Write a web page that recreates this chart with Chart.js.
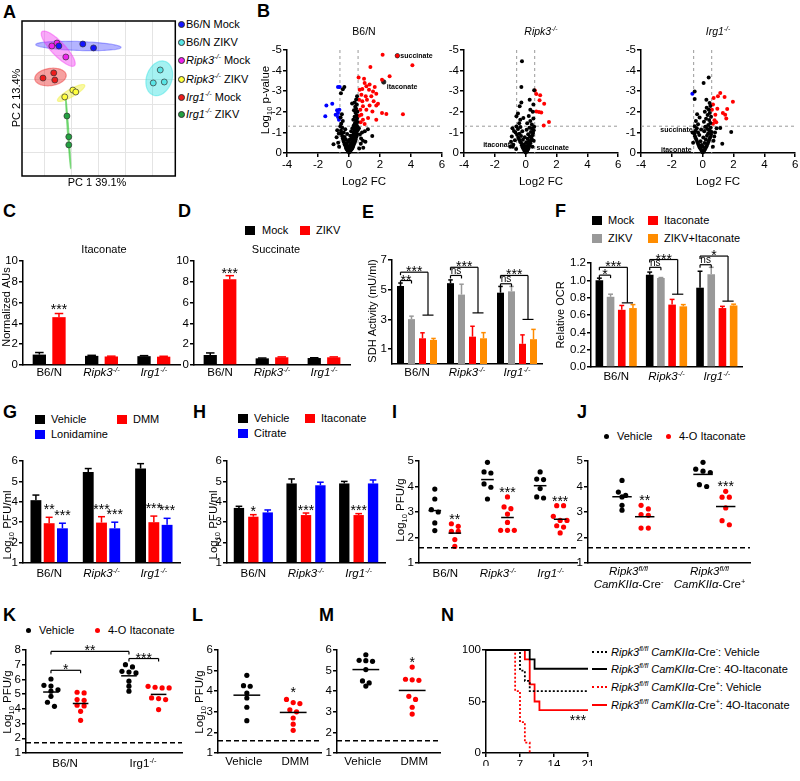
<!DOCTYPE html>
<html>
<head>
<meta charset="utf-8">
<title>Itaconate figure</title>
<script src="https://cdn.jsdelivr.net/npm/chart.js@4.4.1/dist/chart.umd.min.js"></script>
<style>
  body { margin: 0; background: #fff; }
  #fig { position: relative; width: 800px; height: 781px; overflow: hidden; background: #fff;
         font-family: "Liberation Sans", Arial, Helvetica, sans-serif; color: #000; }
  #fig canvas { position: absolute; }
  .lt { position: absolute; font-size: 18px; line-height: 18px; font-weight: bold; }
  .lg { position: absolute; font-size: 11px; line-height: 14px; white-space: nowrap; }
  .lg sup { font-size: 65%; line-height: 0; }
  .sw { display: inline-block; width: 10px; height: 9px; vertical-align: -1px; margin-right: 6px; }
  .dt { display: inline-block; width: 5px; height: 5px; border-radius: 50%; vertical-align: 1px; margin-right: 8px; }
  .pc { display: inline-block; box-sizing: border-box; width: 7px; height: 7px; border-radius: 50%; border: 0.8px solid #333; vertical-align: 0; margin-right: 1px; }
  .ln { display: inline-block; width: 15px; height: 0; vertical-align: 3px; margin-right: 4px; }
</style>
</head>
<body>
<div id="fig">
  <div class="lt" style="left:3px;top:3px">A</div>
  <div class="lt" style="left:257px;top:2px">B</div>
  <div class="lt" style="left:3px;top:202px">C</div>
  <div class="lt" style="left:178px;top:202px">D</div>
  <div class="lt" style="left:362px;top:203px">E</div>
  <div class="lt" style="left:555px;top:202px">F</div>
  <div class="lt" style="left:3px;top:403px">G</div>
  <div class="lt" style="left:193px;top:403px">H</div>
  <div class="lt" style="left:392px;top:403px">I</div>
  <div class="lt" style="left:577px;top:403px">J</div>
  <div class="lt" style="left:3px;top:606px">K</div>
  <div class="lt" style="left:192px;top:606px">L</div>
  <div class="lt" style="left:319px;top:606px">M</div>
  <div class="lt" style="left:441px;top:606px">N</div>

  <div class="lg" style="left:178px;top:17px"><span class="pc" style="background:#1414ff"></span>B6/N Mock</div>
  <div class="lg" style="left:178px;top:35px"><span class="pc" style="background:#5ae6e6"></span>B6/N ZIKV</div>
  <div class="lg" style="left:178px;top:53px"><span class="pc" style="background:#ee22ee"></span><i>Ripk3<sup>-/-</sup></i> Mock</div>
  <div class="lg" style="left:178px;top:72px"><span class="pc" style="background:#ffff3c"></span><i>Ripk3<sup>-/-</sup></i> ZIKV</div>
  <div class="lg" style="left:178px;top:90px"><span class="pc" style="background:#ee1c1c"></span><i>Irg1<sup>-/-</sup></i> Mock</div>
  <div class="lg" style="left:178px;top:107px"><span class="pc" style="background:#22a040"></span><i>Irg1<sup>-/-</sup></i> ZIKV</div>

  <div class="lg" style="left:245px;top:223px"><span class="sw" style="background:#000;margin-right:7px"></span>Mock</div>
  <div class="lg" style="left:300px;top:223px"><span class="sw" style="background:#ff0000"></span>ZIKV</div>

  <div class="lg" style="left:592px;top:213px"><span class="sw" style="background:#000"></span>Mock</div>
  <div class="lg" style="left:648px;top:213px"><span class="sw" style="background:#ff0000"></span>Itaconate</div>
  <div class="lg" style="left:592px;top:231px"><span class="sw" style="background:#999"></span>ZIKV</div>
  <div class="lg" style="left:648px;top:231px"><span class="sw" style="background:#ff8c00"></span>ZIKV+Itaconate</div>

  <div class="lg" style="left:35px;top:412px"><span class="sw" style="background:#000"></span>Vehicle</div>
  <div class="lg" style="left:117px;top:412px"><span class="sw" style="background:#ff0000"></span>DMM</div>
  <div class="lg" style="left:35px;top:427px"><span class="sw" style="background:#0000ff"></span>Lonidamine</div>

  <div class="lg" style="left:238px;top:411px"><span class="sw" style="background:#000"></span>Vehicle</div>
  <div class="lg" style="left:305px;top:411px"><span class="sw" style="background:#ff0000"></span>Itaconate</div>
  <div class="lg" style="left:238px;top:426px"><span class="sw" style="background:#0000ff"></span>Citrate</div>

  <div class="lg" style="left:604px;top:429px"><span class="dt" style="background:#000"></span>Vehicle</div>
  <div class="lg" style="left:666px;top:429px"><span class="dt" style="background:#ff0000"></span>4-O Itaconate</div>

  <div class="lg" style="left:26px;top:623px"><span class="dt" style="background:#000"></span>Vehicle</div>
  <div class="lg" style="left:95px;top:623px"><span class="dt" style="background:#ff0000"></span>4-O Itaconate</div>

  <div class="lg" style="left:592px;top:645px"><span class="ln" style="border-top:2px dotted #000"></span><i>Ripk3<sup>fl/fl</sup> CamKIIα</i>-Cre<sup>-</sup>: Vehicle</div>
  <div class="lg" style="left:592px;top:662px"><span class="ln" style="border-top:2px solid #000"></span><i>Ripk3<sup>fl/fl</sup> CamKIIα</i>-Cre<sup>-</sup>: 4O-Itaconate</div>
  <div class="lg" style="left:592px;top:680px"><span class="ln" style="border-top:2px dotted #ff0000"></span><i>Ripk3<sup>fl/fl</sup> CamKIIα</i>-Cre<sup>+</sup>: Vehicle</div>
  <div class="lg" style="left:592px;top:698px"><span class="ln" style="border-top:2px solid #ff0000"></span><i>Ripk3<sup>fl/fl</sup> CamKIIα</i>-Cre<sup>+</sup>: 4O-Itaconate</div>
</div>

<script>
'use strict';

const FONT = '"Liberation Sans", Arial, Helvetica, sans-serif';

// A - PCA scores (PC1, PC2)
const pcaB6Mock = [[-14.8, 23.7], [-5.9, 24.5], [-1.9, 22.9]];
const pcaB6Zikv = [[22.9, 13.9], [20.3, 8.6], [24.4, 9.0]];
const pcaRipk3Mock = [[-17.4, 23.7], [-15.5, 24.9], [-12.2, 19.2]];
const pcaRipk3Zikv = [[-12.6, 2.9], [-9.6, 5.7], [-8.5, 4.9]];
const pcaIrg1Mock = [[-20.7, 10.6], [-16.7, 12.7], [-16.3, 9.8]];
const pcaIrg1Zikv = [[-11.8, -4.9], [-11.1, -13.4], [-11.1, -16.7]];
const pcaGrid = [-20, -10, 0, 10, 20];

// B - volcano plots: [log2 FC, log10 p-value]
const volcanoTicksX = [-4, -2, 0, 2, 4, 6];
const volcanoTicksY = [-5, -4, -3, -2, -1, 0];

const b6Up = [[3.12,-4.72],[2.17,-4.77],[4.09,-4.26],[1.38,-4.17],[2.62,-3.72],[2.13,-3.56],[0.97,-3.61],[0.62,-3.67],
  [1.01,-3.4],[1.12,-3.24],[0.86,-3.11],[1.29,-3.07],[1.55,-2.99],[1.76,-2.88],[0.80,-2.83],[1.08,-2.75],[1.44,-2.75],
  [1.16,-2.59],[0.86,-2.51],[1.59,-2.51],[1.87,-2.39],[1.33,-2.30],[0.90,-2.27],[0.73,-2.10],[1.12,-2.10],[1.51,-2.02],
  [1.76,-2.30],[2.13,-1.94],[2.41,-1.89],[3.48,-1.88],[0.80,-1.86],[1.23,-1.70],[0.90,-1.62],[0.65,-1.81],[1.76,-1.62],
  [0.75,-1.49],[1.01,-1.41],[0.65,-2.59],[0.69,-3.07],[1.33,-3.32],[1.66,-3.20]];
const b6Down = [[-0.71,-3.2],[-0.60,-3.2],[-1.08,-2.39],[-1.46,-2.30],[-1.53,-1.78],[-0.77,-2.07],[-0.71,-1.94],
  [-0.86,-1.86],[-0.71,-1.75],[-0.65,-1.62],[-0.62,-2.10]];
const b6Ns = [[0.00,-0.03],[0.04,-0.06],[-0.04,-0.08],[0.08,-0.10],[-0.08,-0.12],[0.12,-0.14],[-0.12,-0.16],[0.16,-0.18],
  [-0.16,-0.20],[0.20,-0.22],[-0.20,-0.25],[0.02,-0.20],[-0.02,-0.28],[0.24,-0.28],[0.10,-0.30],[-0.10,-0.33],[0.28,-0.35],
  [-0.24,-0.36],[0.06,-0.38],[0.18,-0.40],[-0.28,-0.42],[0.32,-0.44],[-0.14,-0.46],[0.12,-0.48],[0.36,-0.50],[-0.32,-0.52],
  [0.22,-0.55],[-0.06,-0.56],[0.40,-0.58],[-0.36,-0.60],[0.28,-0.62],[0.04,-0.64],[-0.20,-0.66],[0.44,-0.68],[-0.40,-0.70],
  [0.16,-0.72],[0.34,-0.75],[-0.28,-0.78],[0.48,-0.80],[-0.44,-0.82],[0.08,-0.84],[0.24,-0.86],[0.40,-0.90],[-0.12,-0.92],
  [0.52,-0.94],[-0.48,-0.95],[0.30,-0.98],[-0.34,-1.00],[0.46,-1.04],[0.14,-1.06],[-0.52,-1.08],[0.56,-1.10],[0.36,-1.12],
  [-0.24,-1.15],[0.50,-1.18],[0.22,-1.20],[-0.44,-1.22],[0.42,-1.25],[0.54,-1.28],[-0.56,-1.30],[0.30,-1.32],[0.48,-1.36],
  [-0.50,-1.42],[0.38,-1.45],[0.55,-1.50],[-0.40,-1.55],[0.44,-1.58],[0.28,-1.62],[0.52,-1.68],[-0.54,-1.72],[0.36,-1.76],
  [0.48,-1.82],[-0.46,-1.88],[0.42,-1.95],[0.54,-2.00],[0.32,-2.08],[0.46,-2.15],[0.40,-2.25],[0.50,-2.35],[0.36,-2.45],
  [0.46,-2.60],[0.52,-2.75],[-0.30,-3.20],[-0.40,-3.10],[-0.52,-2.90],[0.20,-2.40],[-1.00,-0.42],[1.50,-0.82],[1.02,-1.05],
  [1.22,-1.15],[0.90,-0.60],[0.76,-0.45],[-0.70,-0.50],[-0.80,-0.76],[0.66,-0.22],[-0.64,-0.30],[0.92,-0.26],[1.06,-0.55],
  [0.70,-0.90],[0.84,-1.00],[0.64,-1.20],[0.78,-0.70],[-0.66,-0.95],[-0.76,-1.10]];
const b6Named = [[3.12,-4.72],[2.24,-3.45]];
const b6NamedLabels = ['succinate', 'itaconate'];

const rpUp = [[0.69,-2.86],[0.94,-2.80],[0.90,-2.56],[1.20,-2.39],[0.69,-2.02],[0.86,-1.99],[1.01,-1.97],[1.51,-1.50],[1.17,-1.33],[0.60,-3.04]];
const rpNs = [[0.00,-0.03],[0.05,-0.06],[-0.05,-0.09],[0.10,-0.12],[-0.10,-0.15],[0.15,-0.18],[-0.15,-0.21],[0.02,-0.24],
  [0.20,-0.26],[-0.20,-0.28],[-0.04,-0.31],[0.10,-0.34],[0.25,-0.36],[-0.25,-0.38],[-0.12,-0.41],[0.18,-0.44],[0.30,-0.47],
  [-0.30,-0.50],[0.04,-0.52],[-0.36,-0.55],[0.22,-0.58],[0.34,-0.61],[-0.18,-0.64],[-0.42,-0.66],[0.12,-0.69],[0.38,-0.72],
  [-0.48,-0.74],[-0.06,-0.77],[0.28,-0.80],[-0.30,-0.83],[0.44,-0.86],[-0.56,-0.88],[0.16,-0.91],[-0.40,-0.94],[0.48,-0.97],
  [-0.66,-0.99],[0.34,-1.02],[-0.22,-1.05],[-0.76,-1.07],[0.52,-1.10],[0.06,-1.13],[-0.50,-1.16],[0.40,-1.19],[-0.86,-1.20],
  [0.24,-1.23],[-0.34,-1.26],[0.55,-1.28],[-0.60,-1.29],[-0.80,-0.40],[-0.95,-0.55],[-0.70,-0.62],[-0.90,-0.80],[-1.00,-0.30],
  [-0.62,-0.20],[-0.84,-0.30],[0.44,-0.30],[0.52,-0.60],[0.40,-1.38],[-0.42,-1.45],[0.30,-1.55],[0.50,-1.68],[-0.35,-1.62],
  [0.20,-1.80],[-0.50,-1.92],[0.46,-2.00],[-0.39,-2.27],[0.30,-2.10],[-0.28,-2.45],[0.26,-2.59],[0.50,-2.35],[-0.60,-1.78],
  [-0.28,-3.20],[0.55,-3.05],[-0.24,-4.45],[0.10,-1.45],[-0.15,-1.70]];
const rpNamed = [[-0.05,-0.38],[0.06,-0.30]];
const rpNamedLabels = ['itaconate', 'succinate'];

const irUp = [[1.14,-2.91],[0.99,-2.75],[1.42,-2.72],[0.71,-2.67],[1.96,-2.49],[0.67,-2.35],[0.95,-2.15],[1.59,-2.14],
  [0.60,-2.10],[1.31,-1.94],[0.82,-1.86],[1.46,-1.86],[1.53,-1.67],[0.77,-1.59],[0.67,-1.42],[0.88,-1.49]];
const irDown = [[-0.67,-2.88]];
const irNs = [[0.00,-0.04],[0.05,-0.07],[-0.05,-0.10],[0.10,-0.13],[-0.10,-0.16],[0.15,-0.19],[-0.15,-0.22],[0.20,-0.25],
  [-0.20,-0.28],[0.02,-0.30],[0.25,-0.33],[-0.25,-0.36],[-0.06,-0.39],[0.30,-0.42],[-0.30,-0.45],[0.12,-0.48],[0.35,-0.51],
  [-0.35,-0.54],[-0.14,-0.57],[0.40,-0.60],[-0.40,-0.63],[0.20,-0.66],[0.45,-0.69],[-0.45,-0.72],[0.04,-0.75],[0.50,-0.78],
  [-0.50,-0.81],[0.28,-0.84],[-0.22,-0.87],[0.54,-0.90],[-0.54,-0.93],[0.36,-0.96],[-0.30,-0.99],[0.58,-1.02],[0.10,-1.05],
  [-0.46,-1.08],[0.44,-1.11],[-0.10,-1.14],[0.30,-1.17],[-0.38,-1.20],[0.52,-1.24],[0.18,-1.28],[-0.52,-1.30],[0.36,-1.36],
  [-0.30,-1.40],[0.50,-1.46],[0.08,-1.52],[-0.44,-1.55],[0.42,-1.60],[0.22,-1.66],[-0.20,-1.72],[0.54,-1.76],[0.32,-1.84],
  [-0.36,-1.88],[0.46,-1.94],[0.14,-2.00],[0.40,-2.10],[0.26,-2.20],[0.50,-2.28],[-0.52,-2.62],[0.24,-2.59],[0.45,-2.43],
  [0.06,-3.40],[0.39,-3.67],[-0.52,-2.98],[1.14,-1.21],[1.85,-1.02],[1.27,-0.45],[0.70,-0.60],[0.80,-1.00],[0.66,-0.30],
  [-0.62,-0.50],[-0.66,-1.00],[0.90,-1.20],[0.75,-0.80]];
const irNamed = [[0.19,-1.23],[0.00,-0.06]];
const irNamedLabels = ['succinate', 'itaconate'];

// C-H - bar charts (mean, SEM)
const genotypes = ['B6/N', '_Ripk3^-/-^_', '_Irg1^-/-^_'];
const itaMock = [1.0, 0.88, 0.85], itaMockErr = [0.2, 0.05, 0.05];
const itaZikv = [4.6, 0.82, 0.8], itaZikvErr = [0.35, 0.03, 0.04];
const itaStars = ['***', '', ''];
const sucMock = [0.96, 0.64, 0.67], sucMockErr = [0.2, 0.03, 0.03];
const sucZikv = [8.24, 0.74, 0.74], sucZikvErr = [0.35, 0.04, 0.04];
const sucStars = ['***', '', ''];
const normTicks = [0, 2, 4, 6, 8, 10];

const sdhMock = [5.25, 5.44, 4.8], sdhMockErr = [0.2, 0.22, 0.42];
const sdhZikv = [3.02, 4.67, 4.89], sdhZikvErr = [0.2, 0.7, 0.33];
const sdhIta = [1.73, 1.84, 1.36], sdhItaErr = [0.37, 0.7, 0.6];
const sdhZikvIta = [1.62, 1.73, 1.67], sdhZikvItaErr = [0.1, 0.38, 0.66];
const sdhTicks = [1, 3, 5, 7];

const ocrMock = [1.0, 1.065, 0.915], ocrMockErr = [0.025, 0.03, 0.19];
const ocrZikv = [0.81, 1.027, 1.07], ocrZikvErr = [0.03, 0.005, 0.08];
const ocrIta = [0.66, 0.72, 0.68], ocrItaErr = [0.05, 0.06, 0.02];
const ocrZikvIta = [0.68, 0.70, 0.71], ocrZikvItaErr = [0.04, 0.02, 0.015];
const ocrTicks = [0, 0.2, 0.4, 0.6, 0.8, 1.0, 1.2];

const gVehicle = [4.08, 5.46, 5.63], gVehicleErr = [0.25, 0.17, 0.24];
const gDmm = [2.95, 2.98, 3.0], gDmmErr = [0.29, 0.29, 0.3];
const gLonidamine = [2.70, 2.70, 2.87], gLonidamineErr = [0.25, 0.3, 0.32];
const gDmmStars = ['**', '***', '***'], gLonidamineStars = ['***', '***', '***'];
const hVehicle = [3.7, 4.9, 4.9], hVehicleErr = [0.08, 0.22, 0.1];
const hItaconate = [3.27, 3.35, 3.35], hItaconateErr = [0.1, 0.1, 0.07];
const hCitrate = [3.48, 4.81, 4.9], hCitrateErr = [0.12, 0.15, 0.17];
const hItaconateStars = ['*', '***', '***'];
const pfuMlTicks = [1, 2, 3, 4, 5, 6];

// I-M - individual animals, log10 PFU/g
const iVehicle = [[3.9, 3.51, 3.09, 3.0, 2.57, 2.27], [4.95, 4.57, 4.53, 4.1, 3.97, 3.51], [4.57, 4.29, 4.27, 3.92, 3.59, 3.55]];
const iItaconate = [[2.54, 2.44, 2.24, 2.24, 1.92, 1.65], [3.59, 3.2, 3.13, 2.92, 2.59, 2.28, 2.28, 2.28],
  [3.25, 3.25, 2.83, 2.67, 2.67, 2.46, 2.41, 2.18]];
const iStars = ['**', '***', '***'];
const jGroups = [['_Ripk3^fl/fl^_', '_CamKIIα_-Cre^-^'], ['_Ripk3^fl/fl^_', '_CamKIIα_-Cre^+^']];
const jVehicle = [[4.24, 3.78, 3.65, 3.59, 3.26, 3.07], [4.95, 4.68, 4.6, 4.55, 4.07, 4.0]];
const jItaconate = [[3.26, 3.12, 2.9, 2.87, 2.37, 2.37], [3.81, 3.58, 3.58, 3.16, 2.66, 2.5]];
const jStars = ['**', '***'];
const kGroups = ['B6/N', 'Irg1^-/-^'];
const kVehicle = [[6.03, 5.6, 5.55, 5.3, 5.2, 4.85, 4.45, 4.17], [7.0, 6.85, 6.55, 6.5, 6.44, 5.88, 5.54, 5.2]];
const kItaconate = [[5.13, 5.08, 4.63, 4.58, 4.25, 4.2, 3.83, 3.22], [5.53, 5.47, 5.42, 5.42, 4.74, 4.7, 4.63, 3.95]];
const dmmGroups = ['Vehicle', 'DMM'];
const lVehicle = [4.77, 4.27, 4.24, 3.91, 3.67, 3.22, 2.57];
const lDmm = [3.6, 3.45, 3.4, 3.1, 3.0, 2.7, 2.4, 2.1];
const mVehicle = [5.77, 5.5, 5.48, 5.45, 5.05, 4.5, 4.4, 4.25];
const mDmm = [5.17, 4.58, 4.55, 4.53, 3.75, 3.6, 3.22, 2.89];
const dmmStars = ['', '*'];
const pfuGTicks5 = [1, 2, 3, 4, 5];
const pfuGTicks6 = [1, 2, 3, 4, 5, 6];
const pfuGTicks8 = [1, 2, 3, 4, 5, 6, 7, 8];

// N - Kaplan-Meier: [day, percent survival]
const survCreNegVehicle = [[0, 100], [7, 80], [8, 70], [9, 60], [21, 60]];
const survCreNegItaconate = [[0, 100], [9, 90.9], [10, 81.8], [21, 81.8]];
const survCrePosVehicle = [[0, 100], [6, 60], [7, 30], [8, 10], [9, 0]];
const survCrePosItaconate = [[0, 100], [8, 90.9], [9, 66.7], [10, 50], [11, 41.7], [21, 41.7]];
const survDays = [0, 7, 14, 21];
const survTicks = [0, 50, 100];

// ---------------------------------------------------------------
Chart.defaults.font.family = FONT;
Chart.defaults.color = '#000';

const fig = document.getElementById('fig');
const AXIS_BORDER = { display: true, color: '#000', width: 1.5 };

const xy = arr => arr.map(([x, y]) => ({ x, y }));

// the axis boxes take the whole margin left of / below the plot area
function fitTo(p) {
  const yW = p.area[0] - p.box[0], xH = p.box[1] + p.box[3] - p.area[3];
  return s => {
    if (s.isHorizontal()) s.height = xH; else s.width = yW;
    s.paddingLeft = 0; s.paddingRight = 0; s.paddingTop = 0; s.paddingBottom = 0;
  };
}

function axis(min, max, ticks, fmt, extra) {
  return Object.assign({
    type: 'linear', min, max,
    afterBuildTicks: s => { s.ticks = ticks.map(v => ({ value: v })); },
    ticks: { color: '#000', font: { size: 11.5, family: FONT }, padding: 1, autoSkip: false, maxRotation: 0,
             callback: fmt || (v => String(v)) },
    grid: { drawOnChartArea: false, drawTicks: true, tickLength: 4, color: '#000', lineWidth: 1.5 },
    border: AXIS_BORDER
  }, extra || {});
}

// tiny markup: _italic_  ^superscript^  ~subscript~
function richParts(str) {
  const parts = [];
  let it = false, sup = false, sub = false, buf = '';
  for (const ch of str) {
    if (ch === '_' || ch === '^' || ch === '~') {
      if (buf) parts.push({ t: buf, it, sup, sub });
      buf = '';
      if (ch === '_') it = !it; else if (ch === '^') sup = !sup; else sub = !sub;
    } else buf += ch;
  }
  if (buf) parts.push({ t: buf, it, sup, sub });
  return parts;
}

function drawRich(ctx, str, x, y, size, align, rot) {
  const parts = richParts(str);
  const fontOf = p => (p.it ? 'italic ' : '') + ((p.sup || p.sub) ? size * 0.65 : size) + 'px ' + FONT;
  let w = 0;
  parts.forEach(p => { ctx.font = fontOf(p); p.w = ctx.measureText(p.t).width; w += p.w; });
  ctx.save();
  ctx.translate(x, y);
  if (rot) ctx.rotate(rot);
  ctx.fillStyle = '#000';
  ctx.textAlign = 'left';
  ctx.textBaseline = 'alphabetic';
  let cx = align === 'center' ? -w / 2 : align === 'right' ? -w : 0;
  parts.forEach(p => {
    ctx.font = fontOf(p);
    const dy = p.sup ? -size * 0.38 : p.sub ? size * 0.22 : 0;
    ctx.fillText(p.t, cx, dy);
    cx += p.w;
  });
  ctx.restore();
}

function seg(ctx, x1, y1, x2, y2) {
  ctx.beginPath(); ctx.moveTo(x1, y1); ctx.lineTo(x2, y2); ctx.stroke();
}

function starText(ctx, s, x, y, size) {
  ctx.font = (size || 14) + 'px ' + FONT;
  ctx.fillStyle = '#000';
  ctx.textAlign = 'center';
  ctx.textBaseline = 'alphabetic';
  ctx.fillText(s, x, y);
}

// confidence ellipse from the group's own scores
const ELLIPSE_K = 2.4;
function drawEllipse(ctx, xs, ys, pts, fill) {
  const n = pts.length;
  const mx = pts.reduce((t, p) => t + p.x, 0) / n, my = pts.reduce((t, p) => t + p.y, 0) / n;
  let a = 0, b = 0, d = 0;
  pts.forEach(p => { a += (p.x - mx) ** 2; b += (p.x - mx) * (p.y - my); d += (p.y - my) ** 2; });
  a /= n - 1; b /= n - 1; d /= n - 1;
  const th = 0.5 * Math.atan2(2 * b, a - d);
  const tr = (a + d) / 2, df = Math.sqrt(((a - d) / 2) ** 2 + b * b);
  const r1 = Math.sqrt(Math.max(tr + df, 0)) * ELLIPSE_K, r2 = Math.sqrt(Math.max(tr - df, 0)) * ELLIPSE_K;
  ctx.beginPath();
  for (let i = 0; i <= 90; i++) {
    const t = i / 90 * 2 * Math.PI;
    const ex = r1 * Math.cos(t), ey = r2 * Math.sin(t);
    const X = mx + ex * Math.cos(th) - ey * Math.sin(th), Y = my + ex * Math.sin(th) + ey * Math.cos(th);
    const px = xs.getPixelForValue(X), py = ys.getPixelForValue(Y);
    if (i) ctx.lineTo(px, py); else ctx.moveTo(px, py);
  }
  ctx.closePath();
  ctx.fillStyle = fill; ctx.fill();
  ctx.strokeStyle = fill; ctx.lineWidth = 1.2; ctx.stroke();
}

// everything the library does not draw itself
function decor(p) {
  const ox = p.box[0], oy = p.box[1];
  return {
    id: 'decor',
    beforeDatasetsDraw(chart) {
      const ctx = chart.ctx, a = chart.chartArea, xs = chart.scales.x, ys = chart.scales.y;
      ctx.save();
      if (p.ellipses) chart.data.datasets.forEach((ds, i) => drawEllipse(ctx, xs, ys, ds.data, p.ellipses[i]));
      if (p.guides) {
        ctx.strokeStyle = '#9a9a9a'; ctx.lineWidth = 1; ctx.setLineDash([3, 3]);
        p.guides.x.forEach(v => { const px = xs.getPixelForValue(v); seg(ctx, px, a.top, px, a.bottom); });
        p.guides.y.forEach(v => { const py = ys.getPixelForValue(v); seg(ctx, a.left, py, a.right, py); });
      }
      ctx.restore();
    },
    afterDatasetsDraw(chart) {
      const ctx = chart.ctx, a = chart.chartArea, xs = chart.scales.x, ys = chart.scales.y;
      ctx.save();
      if (p.kind === 'bar') {
        chart.data.datasets.forEach((ds, i) => {
          const meta = chart.getDatasetMeta(i);
          ctx.strokeStyle = ds.backgroundColor; ctx.lineWidth = 1.5;
          meta.data.forEach((el, j) => {
            const top = ys.getPixelForValue(ds.data[j] + ds.errs[j]);
            const hw = el.width * 0.32;
            seg(ctx, el.x, el.y, el.x, top);
            seg(ctx, el.x - hw, top, el.x + hw, top);
            if (ds.stars && ds.stars[j]) starText(ctx, ds.stars[j], el.x, top + p.starDy);
          });
        });
      }
      if (p.kind === 'dot') {
        ctx.strokeStyle = '#000'; ctx.lineWidth = 1.5;
        p.series.forEach((s, si) => s.groups.forEach((vals, g) => {
          if (!vals.length) return;
          const cx = g + 0.5 + p.offsets[si];
          const m = vals.reduce((t, v) => t + v, 0) / vals.length;
          const py = ys.getPixelForValue(m);
          seg(ctx, xs.getPixelForValue(cx - p.meanHalf), py, xs.getPixelForValue(cx + p.meanHalf), py);
          if (s.stars && s.stars[g]) starText(ctx, s.stars[g], xs.getPixelForValue(cx), ys.getPixelForValue(Math.max(...vals)) + p.starDy);
        }));
      }
      if (p.lod != null) {
        const py = ys.getPixelForValue(p.lod);
        ctx.strokeStyle = '#000'; ctx.lineWidth = 1.5; ctx.setLineDash([5, 3]);
        seg(ctx, a.left, py, a.right, py);
        ctx.setLineDash([]);
      }
      if (p.brackets) {
        ctx.strokeStyle = '#000'; ctx.lineWidth = 1.2;
        p.brackets.forEach(b => {
          const y = ys.getPixelForValue(b.y);
          const x1 = p.posX(chart, b.g, b.s1);
          let x2;
          seg(ctx, x1, y + 3, x1, y);
          if (b.tee) {
            const xa = p.posX(chart, b.g, b.tee[0]), xb = p.posX(chart, b.g, b.tee[1]);
            const ty = ys.getPixelForValue(b.ty);
            x2 = (xa + xb) / 2;
            seg(ctx, x1, y, x2, y);
            seg(ctx, x2, y, x2, ty);
            seg(ctx, xa, ty, xb, ty);
          } else {
            x2 = p.posX(chart, b.g2 != null ? b.g2 : b.g, b.s2);
            seg(ctx, x1, y, x2, y);
            seg(ctx, x2, y, x2, y + 3);
          }
          if (b.label === 'ns') starText(ctx, 'ns', (x1 + x2) / 2, y - 1.5, 10);
          else starText(ctx, b.label, (x1 + x2) / 2, y + 4, 14);
        });
      }
      if (p.notes) {
        ctx.font = 'bold 7px ' + FONT; ctx.fillStyle = '#000'; ctx.textBaseline = 'alphabetic';
        p.notes.forEach((n, i) => {
          ctx.textAlign = n.align;
          ctx.fillText(p.noteLabels[i], xs.getPixelForValue(p.named[i][0]) + n.dx, ys.getPixelForValue(p.named[i][1]) + n.dy);
        });
      }
      ctx.restore();
    },
    afterDraw(chart) {
      const ctx = chart.ctx, a = chart.chartArea;
      if (p.frame) {
        ctx.save(); ctx.strokeStyle = '#000'; ctx.lineWidth = 1.5;
        ctx.strokeRect(a.left, a.top, a.right - a.left, a.bottom - a.top);
        ctx.restore();
      }
      if (p.cats && p.catX) {
        p.cats.forEach((c, i) => {
          const lines = Array.isArray(c) ? c : [c];
          lines.forEach((ln, k) => drawRich(ctx, ln, p.catX(chart, i), a.bottom + p.catDy + k * 13, 11.5, 'center'));
        });
      }
      (p.texts || []).forEach(t => drawRich(ctx, t.s, t.x - ox, t.y - oy, t.size || 11, t.align || 'center', t.rot ? -Math.PI / 2 : 0));
    }
  };
}

function makeChart(p, cfg) {
  const [bx, by, bw, bh] = p.box;
  const c = document.createElement('canvas');
  c.width = bw; c.height = bh;
  c.style.left = bx + 'px'; c.style.top = by + 'px';
  fig.appendChild(c);
  const fit = fitTo(p);
  Object.values(cfg.options.scales).forEach(s => { s.afterFit = fit; });
  cfg.options = Object.assign({
    responsive: false, animation: false, devicePixelRatio: 1,
    layout: { padding: { left: 0, top: p.area[1] - by, right: bx + bw - p.area[2], bottom: 0 } },
    plugins: { legend: { display: false }, tooltip: { enabled: false } }
  }, cfg.options);
  cfg.plugins = [decor(p)];
  return new Chart(c, cfg);
}

function volcano(p) {
  const sets = [[p.ns, '#000'], [p.up, '#ff0000'], [p.down, '#0000ff']].map(([pts, col]) =>
    ({ data: xy(pts), backgroundColor: col, borderWidth: 0, pointRadius: 2, clip: false }));
  sets.push({ data: xy(p.named), backgroundColor: p.namedFill, borderColor: '#222', borderWidth: 0.8, pointRadius: 2.2, clip: false });
  p.guides = { x: [-Math.log2(1.5), Math.log2(1.5)], y: [Math.log10(0.05)] };
  return makeChart(p, { type: 'scatter', data: { datasets: sets }, options: { scales: {
    x: axis(-4, 6, volcanoTicksX),
    y: axis(-5, 0, volcanoTicksY, null, { reverse: true })
  } } });
}

function barPanel(p) {
  p.kind = 'bar';
  const datasets = p.series.map(s => ({ data: s.vals, errs: s.errs, stars: s.stars, backgroundColor: s.color,
    borderWidth: 0, base: p.yMin, categoryPercentage: p.catPct, barPercentage: p.barPct }));
  p.posX = (chart, g, s) => chart.getDatasetMeta(s).data[g].x;
  p.catX = (chart, i) => chart.scales.x.getPixelForValue(i);
  return makeChart(p, { type: 'bar', data: { labels: p.cats.map((c, i) => 'g' + i), datasets }, options: { scales: {
    x: { type: 'category', ticks: { display: false }, grid: { display: false }, border: AXIS_BORDER },
    y: axis(p.yMin, p.yMax, p.yTicks, p.fmt)
  } } });
}

// rows of points that would overlap are spread sideways, like a column scatter
function swarm(vals, thr) {
  const idx = vals.map((v, i) => i).sort((a, b) => vals[b] - vals[a]);
  const offs = new Array(vals.length).fill(0);
  let row = [];
  const flush = () => { row.forEach((id, k) => { offs[id] = k - (row.length - 1) / 2; }); row = []; };
  idx.forEach(id => { if (row.length && vals[row[0]] - vals[id] >= thr) flush(); row.push(id); });
  flush();
  return offs;
}

function dotPanel(p) {
  p.kind = 'dot';
  const datasets = p.series.map((s, si) => {
    const pts = [];
    s.groups.forEach((vals, g) => {
      const offs = swarm(vals, p.thr);
      vals.forEach((v, k) => pts.push({ x: g + 0.5 + p.offsets[si] + offs[k] * p.step, y: v }));
    });
    return { data: pts, backgroundColor: s.color, borderWidth: 0, pointRadius: 2.6, clip: false };
  });
  p.posX = (chart, g, s) => chart.scales.x.getPixelForValue(g + 0.5 + p.offsets[s]);
  p.catX = (chart, i) => chart.scales.x.getPixelForValue(i + 0.5);
  return makeChart(p, { type: 'scatter', data: { datasets }, options: { scales: {
    x: { type: 'linear', min: 0, max: p.cats.length, ticks: { display: false }, grid: { display: false }, border: AXIS_BORDER },
    y: axis(p.yMin, p.yMax, p.yTicks)
  } } });
}

// ---- A
const pcaColors = ['#1414ff', '#5ae6e6', '#ee22ee', '#ffff3c', '#ee1c1c', '#22a040'];
const pcaFills = ['rgba(40,40,255,0.35)', 'rgba(40,225,225,0.42)', 'rgba(240,40,240,0.4)',
                  'rgba(240,240,50,0.45)', 'rgba(235,45,45,0.45)', 'rgba(60,200,60,0.55)'];
const gridAxis = (min, max) => ({
  type: 'linear', min, max,
  afterBuildTicks: s => { s.ticks = pcaGrid.map(v => ({ value: v })); },
  ticks: { display: false }, grid: { color: '#e4e4e4', lineWidth: 1, drawTicks: false }, border: { display: false }
});
makeChart({
  box: [0, 0, 180, 200], area: [22, 21, 176, 176], frame: true, ellipses: pcaFills,
  texts: [{ s: 'PC 1 39.1%', x: 97, y: 186 }, { s: 'PC 2 13.4%', x: 20, y: 98, rot: true }]
}, {
  type: 'scatter',
  data: { datasets: [pcaB6Mock, pcaB6Zikv, pcaRipk3Mock, pcaRipk3Zikv, pcaIrg1Mock, pcaIrg1Zikv].map((g, i) => ({
    data: xy(g), backgroundColor: pcaColors[i], borderColor: '#333', borderWidth: 0.7, pointRadius: 3, clip: false })) },
  options: { scales: { x: gridAxis(-28.5, 28.5), y: gridAxis(-29.4, 33.9) } }
});

// ---- B
volcano({
  box: [232, 20, 215, 170], area: [287, 50, 442, 153],
  ns: b6Ns, up: b6Up, down: b6Down, named: b6Named, namedFill: '#222', noteLabels: b6NamedLabels,
  notes: [{ dx: 3, dy: 2.5, align: 'left' }, { dx: 3, dy: 7, align: 'left' }],
  texts: [{ s: 'B6/N', x: 364, y: 35, size: 10.5 }, { s: 'Log~10~ p-value', x: 269, y: 100, rot: true, size: 11.5 },
          { s: 'Log2 FC', x: 364, y: 185, size: 11.5 }]
});
volcano({
  box: [440, 20, 183, 170], area: [464, 50, 619, 153],
  ns: rpNs, up: rpUp, down: [], named: rpNamed, namedFill: '#b0b0b0', noteLabels: rpNamedLabels,
  notes: [{ dx: -11, dy: 2, align: 'right' }, { dx: 10, dy: 3, align: 'left' }],
  texts: [{ s: '_Ripk3^-/-^_', x: 541, y: 35, size: 10.5 }, { s: 'Log2 FC', x: 541, y: 185, size: 11.5 }]
});
volcano({
  box: [617, 20, 183, 170], area: [641, 50, 796, 153],
  ns: irNs, up: irUp, down: irDown, named: irNamed, namedFill: '#b0b0b0', noteLabels: irNamedLabels,
  notes: [{ dx: -13, dy: 4, align: 'right' }, { dx: -11, dy: 0, align: 'right' }],
  texts: [{ s: '_Irg1^-/-^_', x: 718, y: 35, size: 10.5 }, { s: 'Log2 FC', x: 718, y: 185, size: 11.5 }]
});

// ---- C, D
barPanel({
  box: [0, 240, 185, 150], area: [23, 261, 180, 365], cats: genotypes, catDy: 11,
  yMin: 0, yMax: 10, yTicks: normTicks, catPct: 0.75, barPct: 0.68, starDy: 0,
  series: [{ vals: itaMock, errs: itaMockErr, color: '#000' }, { vals: itaZikv, errs: itaZikvErr, color: '#ff0000', stars: itaStars }],
  texts: [{ s: 'Itaconate', x: 104, y: 253 }, { s: 'Normalized AUs', x: 10, y: 307, rot: true }]
});
barPanel({
  box: [170, 240, 185, 150], area: [194, 261, 350, 365], cats: genotypes, catDy: 11,
  yMin: 0, yMax: 10, yTicks: normTicks, catPct: 0.75, barPct: 0.68, starDy: 2,
  series: [{ vals: sucMock, errs: sucMockErr, color: '#000' }, { vals: sucZikv, errs: sucZikvErr, color: '#ff0000', stars: sucStars }],
  texts: [{ s: 'Succinate', x: 276, y: 253 }]
});

// ---- E, F
const fourSeries = (m, me, z, ze, i, ie, zi, zie) => [
  { vals: m, errs: me, color: '#000' }, { vals: z, errs: ze, color: '#999999' },
  { vals: i, errs: ie, color: '#ff0000' }, { vals: zi, errs: zie, color: '#ff8c00' }];
barPanel({
  box: [360, 240, 190, 150], area: [392, 260, 542, 364], cats: genotypes, catDy: 12,
  yMin: 0, yMax: 7, yTicks: sdhTicks, catPct: 0.88, barPct: 0.64, starDy: 0,
  series: fourSeries(sdhMock, sdhMockErr, sdhZikv, sdhZikvErr, sdhIta, sdhItaErr, sdhZikvIta, sdhZikvItaErr),
  brackets: [
    { g: 0, s1: 0, s2: 1, y: 5.62, label: '**' }, { g: 0, s1: 0, tee: [2, 3], y: 6.18, ty: 3.29, label: '***' },
    { g: 1, s1: 0, s2: 1, y: 5.96, label: 'ns' }, { g: 1, s1: 0, tee: [2, 3], y: 6.51, ty: 3.44, label: '***' },
    { g: 2, s1: 0, s2: 1, y: 5.4, label: 'ns' }, { g: 2, s1: 0, tee: [2, 3], y: 5.96, ty: 3.0, label: '***' }],
  texts: [{ s: 'SDH Activity (mU/ml)', x: 376, y: 311, rot: true }]
});
barPanel({
  box: [550, 240, 200, 150], area: [591, 263, 742, 367], cats: genotypes, catDy: 13,
  yMin: 0, yMax: 1.2, yTicks: ocrTicks, fmt: v => v.toFixed(1), catPct: 0.89, barPct: 0.68, starDy: 0,
  series: fourSeries(ocrMock, ocrMockErr, ocrZikv, ocrZikvErr, ocrIta, ocrItaErr, ocrZikvIta, ocrZikvItaErr),
  brackets: [
    { g: 0, s1: 0, s2: 1, y: 1.06, label: '*' }, { g: 0, s1: 0, tee: [2, 3], y: 1.15, ty: 0.74, label: '***' },
    { g: 1, s1: 0, s2: 1, y: 1.15, label: 'ns' }, { g: 1, s1: 0, tee: [2, 3], y: 1.24, ty: 0.84, label: '***' },
    { g: 2, s1: 0, s2: 1, y: 1.18, label: 'ns' }, { g: 2, s1: 0, tee: [2, 3], y: 1.28, ty: 0.76, label: '*' }],
  texts: [{ s: 'Relative OCR', x: 564, y: 315, rot: true }]
});

// ---- G, H
barPanel({
  box: [0, 445, 190, 140], area: [23, 461, 180, 563], cats: genotypes, catDy: 14,
  yMin: 1, yMax: 6, yTicks: pfuMlTicks, catPct: 0.76, barPct: 0.82, starDy: -3,
  series: [{ vals: gVehicle, errs: gVehicleErr, color: '#000' },
           { vals: gDmm, errs: gDmmErr, color: '#ff0000', stars: gDmmStars },
           { vals: gLonidamine, errs: gLonidamineErr, color: '#0000ff', stars: gLonidamineStars }],
  texts: [{ s: 'Log~10~ PFU/ml', x: 11, y: 525, rot: true, size: 11.5 }]
});
barPanel({
  box: [195, 445, 195, 140], area: [227, 461, 385, 563], cats: genotypes, catDy: 14,
  yMin: 1, yMax: 6, yTicks: pfuMlTicks, catPct: 0.82, barPct: 0.72, starDy: 1.5,
  series: [{ vals: hVehicle, errs: hVehicleErr, color: '#000' },
           { vals: hItaconate, errs: hItaconateErr, color: '#ff0000', stars: hItaconateStars },
           { vals: hCitrate, errs: hCitrateErr, color: '#0000ff' }],
  texts: [{ s: 'Log~10~ PFU/ml', x: 217, y: 525, rot: true, size: 11.5 }]
});

// ---- I, J
dotPanel({
  box: [390, 445, 195, 140], area: [419, 461, 577, 563], cats: genotypes, catDy: 14,
  yMin: 1, yMax: 5, yTicks: pfuGTicks5, offsets: [-0.2, 0.18], thr: 0.18, step: 0.13, meanHalf: 0.12, lod: 1.6, starDy: 0,
  series: [{ color: '#000', groups: iVehicle }, { color: '#ff0000', groups: iItaconate, stars: iStars }],
  texts: [{ s: 'Log~10~ PFU/g', x: 404, y: 510, rot: true, size: 11.5 }]
});
dotPanel({
  box: [565, 445, 195, 150], area: [588, 461, 750, 563], cats: jGroups, catDy: 12,
  yMin: 1, yMax: 5, yTicks: pfuGTicks5, offsets: [-0.08, 0.2], thr: 0.18, step: 0.09, meanHalf: 0.12, lod: 1.6, starDy: 0,
  series: [{ color: '#000', groups: jVehicle }, { color: '#ff0000', groups: jItaconate, stars: jStars }]
});

// ---- K, L, M
dotPanel({
  box: [0, 635, 190, 146], area: [26, 650, 182, 753], cats: kGroups, catDy: 14,
  yMin: 1, yMax: 8, yTicks: pfuGTicks8, offsets: [-0.18, 0.2], thr: 0.3, step: 0.09, meanHalf: 0.1, lod: 1.7, starDy: 0,
  series: [{ color: '#000', groups: kVehicle }, { color: '#ff0000', groups: kItaconate }],
  brackets: [{ g: 0, s1: 0, s2: 1, y: 6.62, label: '*' }, { g: 1, s1: 0, s2: 1, y: 7.42, label: '***' },
             { g: 0, s1: 0, g2: 1, s2: 0, y: 7.9, label: '**' }],
  texts: [{ s: 'Log~10~ PFU/g', x: 11, y: 702, rot: true, size: 11.5 }]
});
dotPanel({
  box: [190, 635, 135, 146], area: [218, 650, 322, 753], cats: dmmGroups, catDy: 12,
  yMin: 1, yMax: 6, yTicks: pfuGTicks6, offsets: [0.06, -0.04], thr: 0.22, step: 0.13, meanHalf: 0.26, lod: 1.6, starDy: -2,
  series: [{ color: '#000', groups: [lVehicle, []] }, { color: '#ff0000', groups: [[], lDmm], stars: dmmStars }],
  texts: [{ s: 'Log~10~ PFU/g', x: 203, y: 702, rot: true, size: 11.5 }]
});
dotPanel({
  box: [322, 635, 123, 146], area: [337, 650, 440, 753], cats: dmmGroups, catDy: 12,
  yMin: 1, yMax: 6, yTicks: pfuGTicks6, offsets: [0.06, -0.04], thr: 0.22, step: 0.13, meanHalf: 0.26, lod: 1.6, starDy: 0,
  series: [{ color: '#000', groups: [mVehicle, []] }, { color: '#ff0000', groups: [[], mDmm], stars: dmmStars }]
});

// ---- N
const survLine = (pts, col, dash) => ({ data: xy(pts), borderColor: col, borderDash: dash, borderWidth: 1.8,
  stepped: true, pointRadius: 0, fill: false, clip: false });
makeChart({
  box: [463, 640, 132, 126], area: [486, 650, 588, 753],
  texts: [{ s: 'Percent survival', x: 460, y: 702, rot: true }, { s: 'Days post infection', x: 537, y: 778 },
          { s: '***', x: 578, y: 725, size: 14 }]
}, {
  type: 'line',
  data: { datasets: [
    survLine(survCreNegItaconate, '#000', []),
    survLine(survCreNegVehicle, '#000', [2, 2]),
    survLine(survCrePosVehicle, '#ff0000', [2, 2]),
    survLine(survCrePosItaconate, '#ff0000', [])
  ] },
  options: { scales: { x: axis(0, 21, survDays), y: axis(0, 100, survTicks) } }
});
</script>
</body>
</html>
